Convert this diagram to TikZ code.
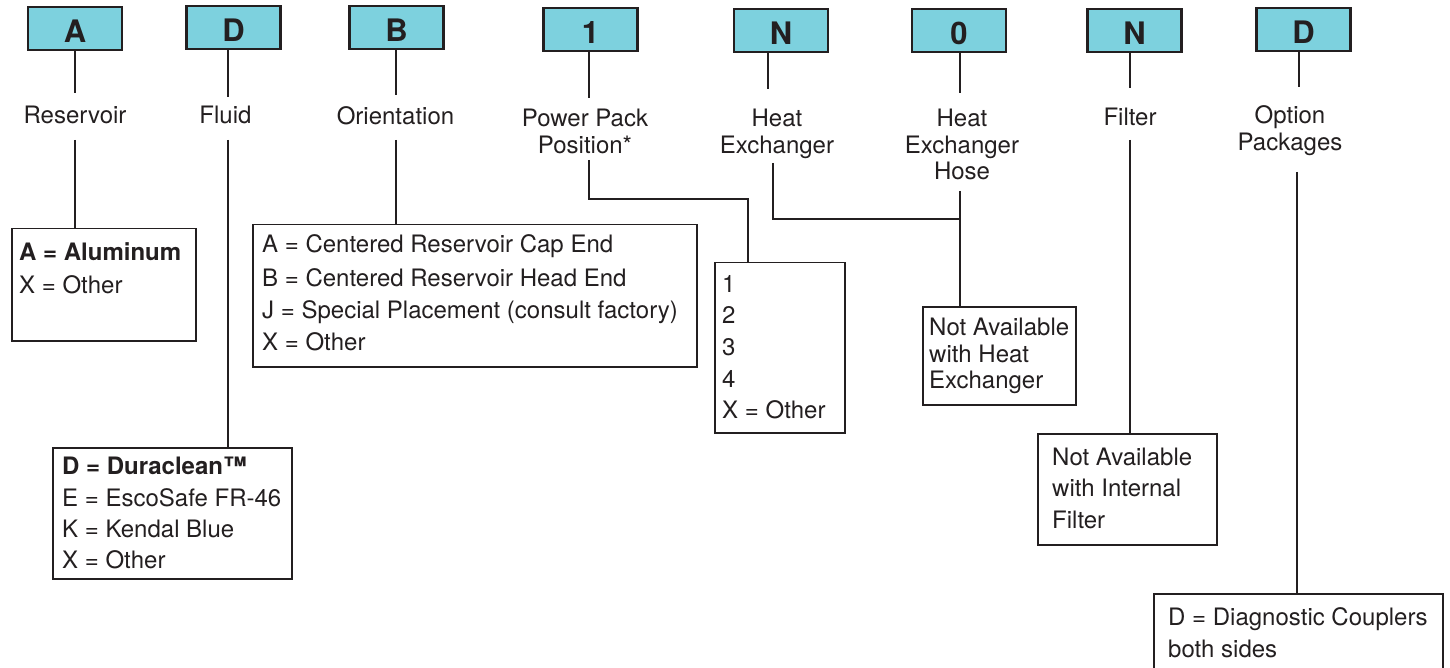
\documentclass[tikz,border=0pt]{standalone}
\usepackage{fontspec}
\setmainfont{TeX Gyre Heros}
\usetikzlibrary{calc}
\definecolor{ink}{HTML}{231F20}
\definecolor{codefill}{HTML}{7DD1DE}
\tikzset{
  conn/.style={draw=ink, line width=2.6pt},
  codebox/.style={draw=ink, line width=2.4pt, fill=codefill, minimum width=94pt, minimum height=43pt,
    inner sep=0pt, text height=28pt, text depth=0pt, text=ink, font=\fontsize{31}{31}\selectfont\bfseries},
  lbl/.style={text=ink, font=\fontsize{24}{27}\selectfont, inner sep=0pt, anchor=base},
  ansbox/.style={draw=ink, line width=1.5pt, anchor=north west, inner sep=0pt},
  anstxt/.style={text=ink, font=\fontsize{24}{32}\selectfont, inner sep=0pt, anchor=base west},
}
\begin{document}
\begin{tikzpicture}[x=1pt,y=-1pt]
\useasboundingbox (0,0) rectangle (1450,668);

% column x positions for connectors
\coordinate (xA) at (75,0);
\coordinate (xD) at (228,0);
\coordinate (xB) at (396,0);
\coordinate (xP) at (589,0);
\coordinate (xPb) at (748,0);
\coordinate (xN) at (768,0);
\coordinate (xNb) at (773,0);
\coordinate (xH) at (960,0);
\coordinate (xF) at (1130,0);
\coordinate (xO) at (1299,0);
\coordinate (xOb) at (1297,0);

% code boxes
\node[codebox] (cA) at (75,28.5) {A};
\node[codebox] (cD) at (233.5,27.5) {D};
\node[codebox] (cB) at (396.5,27.5) {B};
\node[codebox] (c1) at (590.5,29.5) {1};
\node[codebox] (cN) at (781,30.5) {N};
\node[codebox] (c0) at (959,30.5) {0};
\node[codebox] (cF) at (1134.5,30.5) {N};
\node[codebox] (cO) at (1303.5,29.5) {D};

% labels
\node[lbl] (lA) at (75,124) {Reservoir};
\node[lbl] (lD) at (225.5,124) {Fluid};
\node[lbl] (lB) at (395.5,125) {Orientation};
\node[lbl] (lP1) at (585,127) {Power Pack};
\node[lbl] (lP2) at (585,154) {Position*};
\node[lbl] (lN1) at (777,127) {Heat};
\node[lbl] (lN2) at (777,154) {Exchanger};
\node[lbl] (lH1) at (962,127) {Heat};
\node[lbl] (lH2) at (962,154) {Exchanger};
\node[lbl] (lH3) at (962,180) {Hose};
\node[lbl] (lF) at (1130,126) {Filter};
\node[lbl] (lO1) at (1290,124) {Option};
\node[lbl] (lO2) at (1290,151) {Packages};

% answer boxes
\node[ansbox, minimum width=184pt, minimum height=112pt] (aA) at (11,228) {};
\node[ansbox, minimum width=239pt, minimum height=131pt] (aD) at (52,447) {};
\node[ansbox, minimum width=444pt, minimum height=142pt] (aB) at (252,224) {};
\node[ansbox, minimum width=130pt, minimum height=170pt] (a1) at (714,262) {};
\node[ansbox, minimum width=153pt, minimum height=98pt] (aH) at (922,306) {};
\node[ansbox, minimum width=179pt, minimum height=111pt] (aF) at (1037,433) {};
\node[ansbox, minimum width=289pt, minimum height=110pt] (aO) at (1153,593) {};

% answer texts
\node[anstxt] (tA1) at (19,261) {\bfseries A = Aluminum};
\node[anstxt] (tA2) at (19,293) {X = Other};

\node[anstxt] (tD1) at (62,474) {\bfseries D = Duraclean™};
\node[anstxt] (tD2) at (62,506) {E = EscoSafe FR-46};
\node[anstxt] (tD3) at (62,537) {K = Kendal Blue};
\node[anstxt] (tD4) at (62,568) {X = Other};

\node[anstxt] (tB1) at (262,253) {A = Centered Reservoir Cap End};
\node[anstxt] (tB2) at (262,286) {B = Centered Reservoir Head End};
\node[anstxt] (tB3) at (262,318) {J = Special Placement (consult factory)};
\node[anstxt] (tB4) at (262,350) {X = Other};

\node[anstxt] (t11) at (722,292) {1};
\node[anstxt] (t12) at (722,323) {2};
\node[anstxt] (t13) at (722,355) {3};
\node[anstxt] (t14) at (722,387) {4};
\node[anstxt] (t15) at (722,418) {X = Other};

\node[anstxt] (tH1) at (929,335) {Not Available};
\node[anstxt] (tH2) at (929,362) {with Heat};
\node[anstxt] (tH3) at (929,388) {Exchanger};

\node[anstxt] (tF1) at (1052,465) {Not Available};
\node[anstxt] (tF2) at (1052,496) {with Internal};
\node[anstxt] (tF3) at (1052,528) {Filter};

\node[anstxt] (tO1) at (1168,625) {D = Diagnostic Couplers};
\node[anstxt] (tO2) at (1168,657) {both sides};

% connectors: code box to label
\draw[conn] (xA |- cA.south) -- ++(0,42);
\draw[conn] (xD |- cD.south) -- ++(0,47);
\draw[conn] (xB |- cB.south) -- ++(0,45);
\draw[conn] (xP |- c1.south) -- ++(0,46);
\draw[conn] (xN |- cN.south) -- ++(0,36);
\draw[conn] (xH |- c0.south) -- ++(0,40);
\draw[conn] (xF |- cF.south) -- ++(0,35);
\draw[conn] (xO |- cO.south) -- ++(0,35);

% connectors: label to answer box
\draw[conn] (xA |- lA.base) ++(0,16) -- (xA |- aA.north);
\draw[conn] (xD |- lD.base) ++(0,16) -- (xD |- aD.north);
\draw[conn] (xB |- lB.base) ++(0,15) -- (xB |- aB.north);
\draw[conn] (xP |- lP2.base) ++(0,6) -- ++(0,39) -| (xPb |- a1.north);
\draw[conn] (xNb |- lN2.base) ++(0,9) -- ++(0,56) -- ++(187,0);
\draw[conn] (xH |- lH3.base) ++(0,11) -- (xH |- aH.north);
\draw[conn] (xF |- lF.base) ++(0,14) -- (xF |- aF.north);
\draw[conn] (xOb |- lO2.base) ++(0,21) -- (xOb |- aO.north);
\end{tikzpicture}
\end{document}
